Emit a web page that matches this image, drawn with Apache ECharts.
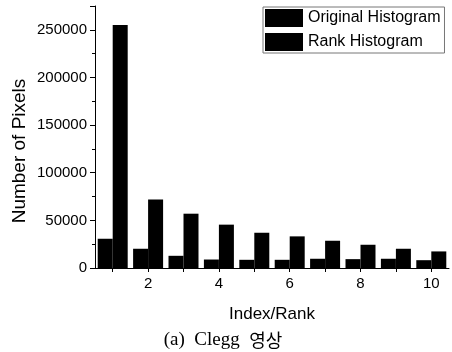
<!DOCTYPE html>
<html>
<head>
<meta charset="utf-8">
<script src="https://cdn.jsdelivr.net/npm/echarts@6/dist/echarts.min.js"></script>
<style>
html,body{margin:0;padding:0;background:#fff;}
#chart{width:452px;height:352px;}
</style>
</head>
<body>
<div id="chart"></div>
<script>
const categories = ['1','2','3','4','5','6','7','8','9','10'];
const originalHist = [30700, 20200, 12800, 8900, 8600, 8600, 9700, 9300, 9700, 8200];
const rankHist = [255000, 71800, 57000, 45500, 37000, 33200, 28600, 24400, 20200, 17400];
const seriesNames = ['Original Histogram', 'Rank Histogram'];
const xAxisTitle = 'Index/Rank';
const yAxisTitle = 'Number of Pixels';
const captionLatin = '(a)  Clegg  ';
const captionKorean = '영상';

const chart = echarts.init(document.getElementById('chart'), null, {renderer: 'canvas'});
const sans = '"Liberation Sans", Arial, sans-serif';
chart.setOption({
  animation: false,
  backgroundColor: '#fff',
  grid: {left: 95, right: 3, top: 6, bottom: 84, outerBoundsMode: 'none', containLabel: false},
  legend: {
    orient: 'vertical', left: 263, top: 7,
    padding: [2, 4, 2, 2],
    itemWidth: 38, itemHeight: 18, itemGap: 6,
    borderColor: '#777', borderWidth: 1,
    icon: 'rect',
    textStyle: {fontFamily: sans, fontSize: 16, color: '#000'},
    data: seriesNames
  },
  xAxis: {
    type: 'category', data: categories, boundaryGap: true,
    name: xAxisTitle, nameLocation: 'middle', nameGap: 38,
    nameTextStyle: {fontFamily: sans, fontSize: 17, color: '#000'},
    axisLine: {show: true, lineStyle: {color: '#000', width: 1}},
    axisTick: {show: true, alignWithLabel: true, interval: 0, length: 4, lineStyle: {color: '#000'}},
    axisLabel: {interval: function (i) { return i % 2 === 1; }, margin: 8, fontFamily: sans, fontSize: 15, color: '#000'},
    splitLine: {show: false}
  },
  yAxis: {
    type: 'value', min: 0, max: 275000, interval: 50000,
    axisLine: {show: true, lineStyle: {color: '#000', width: 1}},
    axisTick: {show: true, length: 5, lineStyle: {color: '#000'}},
    minorTick: {show: true, splitNumber: 2, length: 3, lineStyle: {color: '#000'}},
    axisLabel: {showMaxLabel: false, margin: 8, fontFamily: sans, fontSize: 15, color: '#000',
      formatter: function (v) { return String(Math.round(v)); }},
    splitLine: {show: false}
  },
  graphic: [
    {type: 'text', x: 20, y: 151, rotation: Math.PI / 2,
     style: {text: yAxisTitle, fontFamily: sans, fontSize: 19, fill: '#000', align: 'center', verticalAlign: 'middle'}},
    {type: 'text', x: 223, y: 340,
     style: {
       text: '{a|' + captionLatin + '}{k|' + captionKorean + '}',
       align: 'center', verticalAlign: 'middle',
       rich: {
         a: {fontFamily: '"Liberation Serif", "Times New Roman", serif', fontSize: 19, fill: '#000'},
         k: {fontFamily: '"Noto Sans CJK KR", sans-serif', fontSize: 18, fill: '#000'}
       }
     }}
  ],
  series: [
    {name: seriesNames[0], type: 'bar', data: originalHist, barWidth: 15, barGap: '0%',
     itemStyle: {color: '#000'}},
    {name: seriesNames[1], type: 'bar', data: rankHist, barWidth: 15, barGap: '0%',
     itemStyle: {color: '#000'}}
  ]
});
</script>
</body>
</html>
